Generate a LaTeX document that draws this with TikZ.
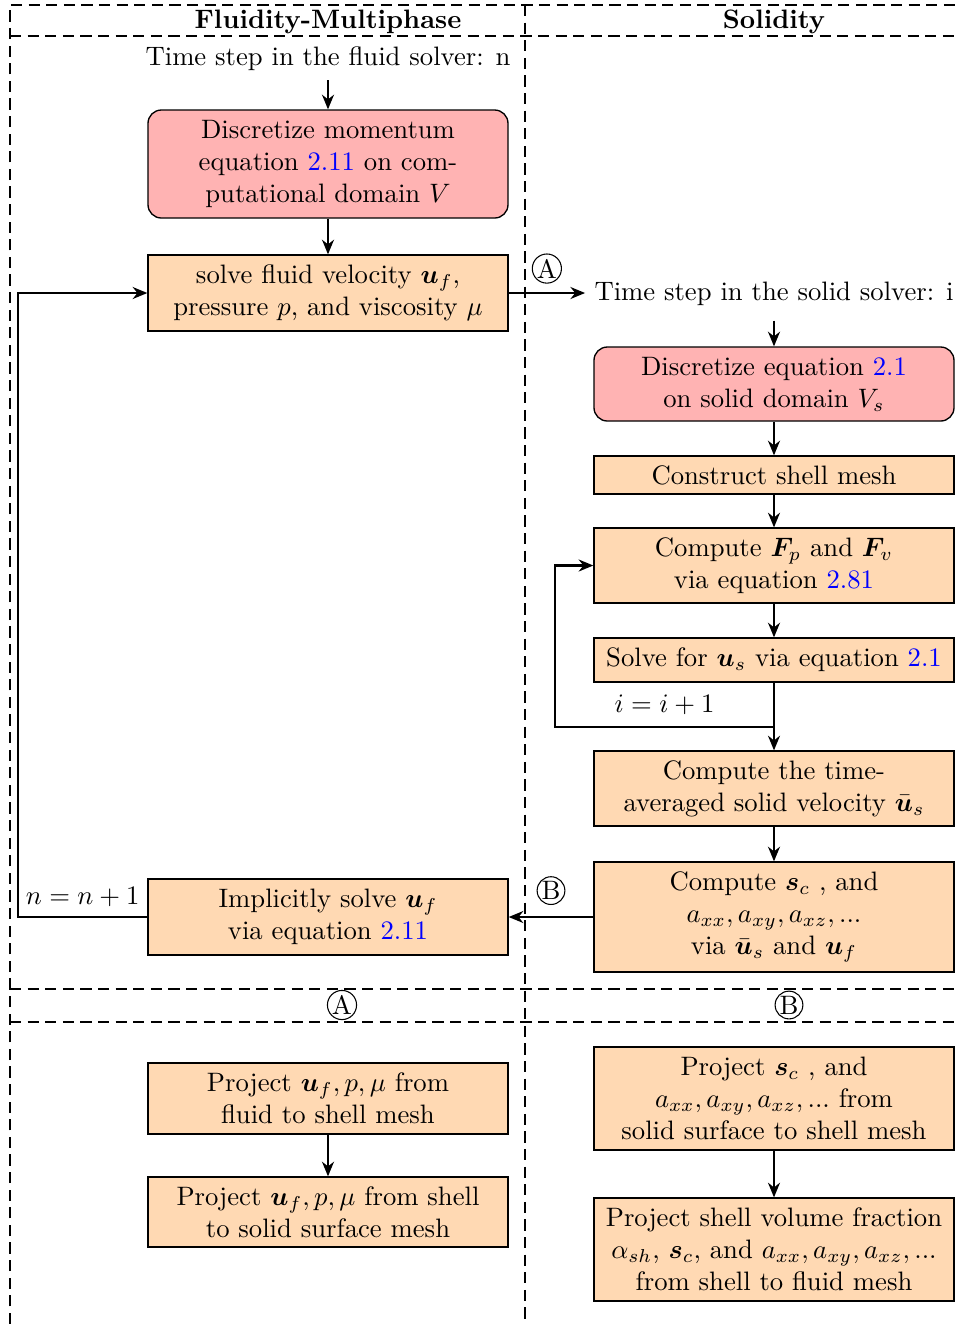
\documentclass[tikz,border=0pt]{standalone}
\usepackage{amsmath,bm}
\usetikzlibrary{arrows.meta}
\definecolor{boxred}{RGB}{255,179,179}
\definecolor{boxorange}{RGB}{255,217,179}
\newcommand{\eqlink}[1]{\textcolor{blue}{#1}}
\tikzset{
  base/.style={draw=black, line width=0.5pt, align=center, text width=129pt, inner sep=3pt, font=\normalsize},
  redbox/.style={base, fill=boxred, rounded corners=5pt},
  orangebox/.style={base, fill=boxorange},
  arr/.style={-{Stealth[length=5.5pt,width=4.5pt]}, line width=0.8pt},
  frame/.style={line width=0.8pt, dash pattern=on 4.2pt off 2.4pt},
  circ/.style={circle, draw, line width=0.4pt, inner sep=0.2pt, minimum size=9.5pt, font=\normalsize},
}
\begin{document}
\begin{tikzpicture}[x=0.375pt,y=-0.375pt]
\useasboundingbox (0,0) rectangle (955,1324);
% frames
\draw[frame] (10,1324) -- (10,5) -- (955,5);
\draw[frame] (10,36) -- (955,36);
\draw[frame] (525,5) -- (525,1324);
\draw[frame] (10,989) -- (955,989);
\draw[frame] (10,1022) -- (955,1022);
\node[font=\bfseries] (hf) at (328,21.5) {Fluidity-Multiphase};
\node[font=\bfseries] (hs) at (774,21.5) {Solidity};
% left column
\node (tf) at (328,59) {Time step in the fluid solver: n};
\node[redbox, minimum height=40.5pt] (b1) at (328,164) {Discretize momentum\\ equation \eqlink{2.11} on com-\\ putational domain $V$};
\node[orangebox, minimum height=28.5pt] (b2) at (328,293) {solve fluid velocity $\boldsymbol{u}_f$,\\ pressure $p$, and viscosity $\mu$};
\node[orangebox, minimum height=28.5pt] (impl) at (328,917) {Implicitly solve $\boldsymbol{u}_f$\\ via equation \eqlink{2.11}};
% right column
\node (ts) at (774,294) {Time step in the solid solver: i};
\node[redbox, minimum height=27.75pt] (r1) at (774,384) {Discretize equation \eqlink{2.1}\\ on solid domain $V_s$};
\node[orangebox, minimum height=14.25pt] (shell) at (774,475) {Construct shell mesh};
\node[orangebox, minimum height=28.1pt] (cf) at (774,565.5) {Compute $\boldsymbol{F}_p$ and $\boldsymbol{F}_v$\\ via equation \eqlink{2.81}};
\node[orangebox, minimum height=16.5pt] (su) at (774,660) {Solve for $\boldsymbol{u}_s$ via equation \eqlink{2.1}};
\node[orangebox, minimum height=28.1pt] (avg) at (774,788.5) {Compute the time-\\ averaged solid velocity $\bar{\boldsymbol{u}}_s$};
\node[orangebox, minimum height=41.25pt] (sc) at (774,917) {Compute $\boldsymbol{s}_c$ , and\\ $a_{xx},a_{xy},a_{xz},...$\\ via $\bar{\boldsymbol{u}}_s$ and $\boldsymbol{u}_f$};
% bottom
\node[circ] (ca) at (342,1005) {A};
\node[circ] (cb) at (789,1005) {B};
\node[orangebox, minimum height=26.6pt] (p1) at (328,1098.5) {Project $\boldsymbol{u}_f,p,\mu$ from\\ fluid to shell mesh};
\node[orangebox, minimum height=26.25pt] (p2) at (328,1212) {Project $\boldsymbol{u}_f,p,\mu$ from shell\\ to solid surface mesh};
\node[orangebox, minimum height=38.6pt] (q1) at (774,1098.5) {Project $\boldsymbol{s}_c$ , and\\ $a_{xx},a_{xy},a_{xz},...$ from\\ solid surface to shell mesh};
\node[orangebox, minimum height=38.6pt] (q2) at (774,1249.5) {Project shell volume fraction\\ $\alpha_{sh}$, $\boldsymbol{s}_c$, and $a_{xx},a_{xy},a_{xz},...$\\ from shell to fluid mesh};
% connectors
\draw[arr] (tf.south) -- (b1.north);
\draw[arr] (b1.south) -- (b2.north);
\draw[arr] (b2.east) -- node[circ, pos=0.5, above=3.5pt] (la) {A} (b2.east -| ts.west);
\coordinate (lp) at (18,917);
\draw[arr] (impl.west) -- node[above, pos=0.5] (nn) {$n=n+1$} (lp) |- (b2.west);
\draw[arr, shorten <=2pt] (ts.south) -- (r1.north);
\draw[arr] (r1.south) -- (shell.north);
\draw[arr] (shell.south) -- (cf.north);
\draw[arr] (cf.south) -- (su.north);
\draw[arr] (su.south) -- (avg.north);
\coordinate (br) at (774,727);
\coordinate (bl) at (555,727);
\draw[arr] (br) -- node[above, pos=0.5, yshift=1pt] (ii) {$i=i+1$} (bl) |- (cf.west);
\draw[arr] (avg.south) -- (sc.north);
\draw[arr] (sc.west) -- node[circ, pos=0.5, above=4.5pt] (lb) {B} (impl.east);
\draw[arr] (p1.south) -- (p2.north);
\draw[arr] (q1.south) -- (q2.north);
\end{tikzpicture}
\end{document}
